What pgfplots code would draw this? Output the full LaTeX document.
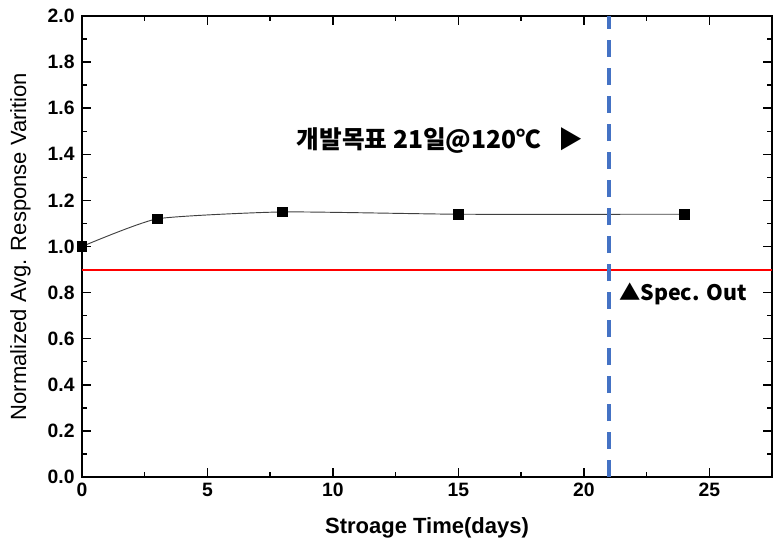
\documentclass[border=0pt]{standalone}
\usepackage{fontspec}
\setmainfont{Liberation Sans}
\newfontfamily\kr{Noto Sans CJK KR}
\usepackage{pgfplots}
\pgfplotsset{compat=1.18}
\usetikzlibrary{calc}
\definecolor{dashblue}{RGB}{68,114,196}
\begin{document}
\begin{tikzpicture}
\begin{axis}[
  scale only axis,
  width=517.5pt, height=345.75pt,
  xmin=0, xmax=27.5, ymin=0, ymax=2.0,
  xtick={0,5,10,15,20,25},
  ytick={0,0.2,0.4,0.6,0.8,1.0,1.2,1.4,1.6,1.8,2.0},
  minor xtick={2.5,7.5,12.5,17.5,22.5},
  minor ytick={0.1,0.3,0.5,0.7,0.9,1.1,1.3,1.5,1.7,1.9},
  yticklabel style={/pgf/number format/fixed,/pgf/number format/fixed zerofill,/pgf/number format/precision=1, xshift=-2pt},
  xticklabel style={/pgf/number format/fixed, yshift=-1pt},
  /pgf/number format/assume math mode=true,
  tick label style={font=\bfseries\fontsize{14.5}{15}\selectfont},
  tick align=inside,
  major tick length=7pt,
  minor tick length=4pt,
  tick style={black, line width=1.1pt},
  axis line style={line width=1.3pt},
  xlabel={\bfseries Stroage Time(days)},
  ylabel={Normalized Avg. Response Varition},
  label style={font=\fontsize{16.5}{18}\selectfont},
  xlabel style={yshift=-9pt},
  ylabel style={yshift=6pt},
  clip=false,
]
\addplot[color=black!75, line width=0.7pt, smooth, tension=0.3, mark=square*, mark size=3.6pt, mark options={fill=black, draw=black, solid}]
  coordinates {(0,1.0) (3,1.12) (8,1.15) (15,1.14) (24,1.14)};
\addplot[red, line width=1.5pt, mark=none] table {
x y
0 0.9
27.5 0.9
};
\addplot[color=dashblue, line width=2.6pt, dash pattern=on 13pt off 8pt, mark=none] coordinates {(21,0) (21,2.0)};
\node[anchor=west, font=\kr\bfseries\fontsize{18.5}{20}\selectfont, inner sep=0pt] at (axis cs:8.55,1.46) {개발목표 21일@120℃\hspace{0.7em}▶};
\node[anchor=west, font=\kr\bfseries\fontsize{16}{18}\selectfont, inner sep=0pt] at (axis cs:21.4,0.795) {▲Spec. Out};
\end{axis}
\useasboundingbox ($(current axis.south west)+(-61.5pt,-50pt)$) rectangle ($(current axis.north east)+(7.5pt,12pt)$);
\end{tikzpicture}
\end{document}
